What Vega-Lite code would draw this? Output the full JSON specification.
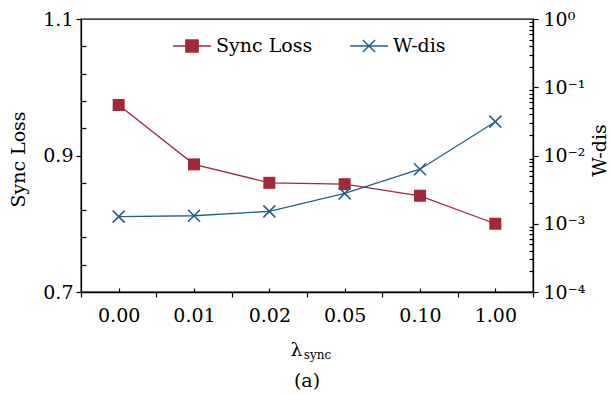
{
  "$schema": "https://vega.github.io/schema/vega-lite/v6.json",
  "width": 452,
  "height": 273,
  "autosize": {"type": "none"},
  "padding": {"left": 81, "top": 19, "right": 78, "bottom": 102},
  "background": "white",
  "config": {
    "view": {"stroke": "black", "strokeWidth": 1.3},
    "font": "DejaVu Serif",
    "axis": {
      "grid": false,
      "domainColor": "black",
      "domainWidth": 1.3,
      "tickColor": "black",
      "tickWidth": 1.2,
      "labelFont": "DejaVu Serif",
      "labelFontSize": 19,
      "labelColor": "black",
      "titleFont": "DejaVu Serif",
      "titleFontSize": 19,
      "titleFontWeight": "normal",
      "titleColor": "black",
      "labelOverlap": false,
      "labelFlush": false
    }
  },
  "title": {"text": "(a)", "orient": "bottom", "font": "DejaVu Serif", "fontSize": 19, "fontWeight": "normal", "color": "black", "offset": 12},
  "data": {
    "values": [
      {"lambda": "0.00", "i": 0, "series": "Sync Loss", "value": 0.974},
      {"lambda": "0.01", "i": 1, "series": "Sync Loss", "value": 0.887},
      {"lambda": "0.02", "i": 2, "series": "Sync Loss", "value": 0.860},
      {"lambda": "0.05", "i": 3, "series": "Sync Loss", "value": 0.858},
      {"lambda": "0.10", "i": 4, "series": "Sync Loss", "value": 0.841},
      {"lambda": "1.00", "i": 5, "series": "Sync Loss", "value": 0.800},
      {"lambda": "0.00", "i": 0, "series": "W-dis", "value": 0.00127},
      {"lambda": "0.01", "i": 1, "series": "W-dis", "value": 0.00131},
      {"lambda": "0.02", "i": 2, "series": "W-dis", "value": 0.00152},
      {"lambda": "0.05", "i": 3, "series": "W-dis", "value": 0.00279},
      {"lambda": "0.10", "i": 4, "series": "W-dis", "value": 0.0063},
      {"lambda": "1.00", "i": 5, "series": "W-dis", "value": 0.0313}
    ]
  },
  "layer": [
    {
      "encoding": {
        "x": {
          "field": "i",
          "type": "quantitative",
          "scale": {"domain": [-0.5, 5.5], "nice": false, "zero": false},
          "axis": {
            "orient": "bottom",
            "values": [-0.5, 0, 0.5, 1, 1.5, 2, 2.5, 3, 3.5, 4, 4.5, 5, 5.5],
            "labelExpr": "datum.value % 1 === 0 ? ['0.00','0.01','0.02','0.05','0.10','1.00'][datum.value] : ''",
            "tickSize": {"condition": {"test": "datum.value % 1 !== 0", "value": 5}, "value": -4},
            "labelPadding": 18,
            "title": "λ",
            "titleX": 215,
            "titleY": 63,
            "titleBaseline": "alphabetic",
            "titleAlign": "center"
          }
        },
        "y": {
          "field": "value",
          "type": "quantitative",
          "scale": {"domain": [0.7, 1.1], "nice": false, "zero": false},
          "axis": {
            "orient": "left",
            "values": [0.7, 0.74, 0.78, 0.82, 0.86, 0.9, 0.94, 0.98, 1.02, 1.06, 1.1],
            "tickSize": {"condition": {"test": "abs(datum.value*10 - round(datum.value*10)) < 0.001", "value": 5}, "value": -5},
            "labelExpr": "abs(datum.value*10 - round(datum.value*10)) < 0.001 ? format(datum.value, '.1f') : ''",
            "labelPadding": 3,
            "title": "Sync Loss",
            "titleAngle": -90,
            "titleX": -57,
            "titleY": 140,
            "titleBaseline": "alphabetic",
            "titleAlign": "center"
          }
        }
      },
      "layer": [
        {
          "transform": [{"filter": "datum.series === 'Sync Loss'"}],
          "mark": {"type": "line", "color": "#A2283A", "strokeWidth": 1.3}
        },
        {
          "transform": [{"filter": "datum.series === 'Sync Loss'"}],
          "mark": {"type": "point", "shape": "square", "filled": true, "size": 144, "color": "#A2283A", "opacity": 1}
        },
        {
          "mark": {"type": "point", "filled": true, "opacity": 0, "size": 1444, "strokeWidth": 1.5, "clip": true},
          "encoding": {
            "shape": {
              "field": "series",
              "type": "nominal",
              "scale": {"domain": ["Sync Loss", "W-dis"], "range": ["M-1,0H1M-0.32,-0.32H0.32V0.32H-0.32Z", "M-1,0H1M-0.32,-0.32L0.32,0.32M-0.32,0.32L0.32,-0.32"]},
              "legend": {"orient": "none", "legendX": 91, "legendY": 7, "direction": "horizontal", "title": null, "labelFont": "DejaVu Serif", "labelFontSize": 19, "labelColor": "black", "symbolSize": 1444, "symbolStrokeWidth": 1.5, "symbolOpacity": 1, "labelOffset": 4, "columnPadding": 34}
            },
            "fill": {
              "field": "series",
              "type": "nominal",
              "scale": {"domain": ["Sync Loss", "W-dis"], "range": ["#A2283A", "#22618A"]},
              "legend": {"orient": "none", "legendX": 91, "legendY": 7, "direction": "horizontal", "title": null, "labelFont": "DejaVu Serif", "labelFontSize": 19, "labelColor": "black", "symbolSize": 1444, "symbolStrokeWidth": 1.5, "symbolOpacity": 1, "labelOffset": 4, "columnPadding": 34}
            },
            "stroke": {
              "field": "series",
              "type": "nominal",
              "scale": {"domain": ["Sync Loss", "W-dis"], "range": ["#A2283A", "#22618A"]},
              "legend": {"orient": "none", "legendX": 91, "legendY": 7, "direction": "horizontal", "title": null, "labelFont": "DejaVu Serif", "labelFontSize": 19, "labelColor": "black", "symbolSize": 1444, "symbolStrokeWidth": 1.5, "symbolOpacity": 1, "labelOffset": 4, "columnPadding": 34}
            }
          }
        }
      ]
    },
    {
      "transform": [{"filter": "datum.series === 'W-dis'"}],
      "encoding": {
        "x": {
          "field": "i",
          "type": "quantitative",
          "axis": {
            "orient": "bottom",
            "ticks": false,
            "labels": false,
            "domain": false,
            "title": "sync",
            "titleFontSize": 12,
            "titleX": 236,
            "titleY": 66,
            "titleBaseline": "alphabetic",
            "titleAlign": "center"
          }
        },
        "y": {
          "field": "value",
          "type": "quantitative",
          "scale": {"type": "log", "domain": [0.0001, 1], "nice": false},
          "axis": {
            "orient": "right",
            "values": [0.0001, 0.0002, 0.0003, 0.0004, 0.0005, 0.0006, 0.0007, 0.0008, 0.0009, 0.001, 0.002, 0.003, 0.004, 0.005, 0.006, 0.007, 0.008, 0.009, 0.01, 0.02, 0.03, 0.04, 0.05, 0.06, 0.07, 0.08, 0.09, 0.1, 0.2, 0.3, 0.4, 0.5, 0.6, 0.7, 0.8, 0.9, 1],
            "tickSize": {"condition": {"test": "abs(log(datum.value)/LN10 - round(log(datum.value)/LN10)) < 0.000001", "value": 5}, "value": -4},
            "labelExpr": "abs(log(datum.value)/LN10 - round(log(datum.value)/LN10)) < 0.000001 ? ['10⁰','10⁻¹','10⁻²','10⁻³','10⁻⁴'][-round(log(datum.value)/LN10)] : ''",
            "labelPadding": 5,
            "title": "W-dis",
            "titleAngle": -90,
            "titleX": 72,
            "titleY": 131,
            "titleBaseline": "alphabetic",
            "titleAlign": "center"
          }
        }
      },
      "layer": [
        {"mark": {"type": "line", "color": "#22618A", "strokeWidth": 1.3}},
        {"mark": {"type": "point", "shape": "M-1,-1L1,1M-1,1L1,-1", "filled": false, "size": 144, "color": "#22618A", "strokeWidth": 1.6, "opacity": 1}}
      ]
    }
  ],
  "resolve": {"scale": {"y": "independent"}, "axis": {"y": "independent", "x": "independent"}}
}
